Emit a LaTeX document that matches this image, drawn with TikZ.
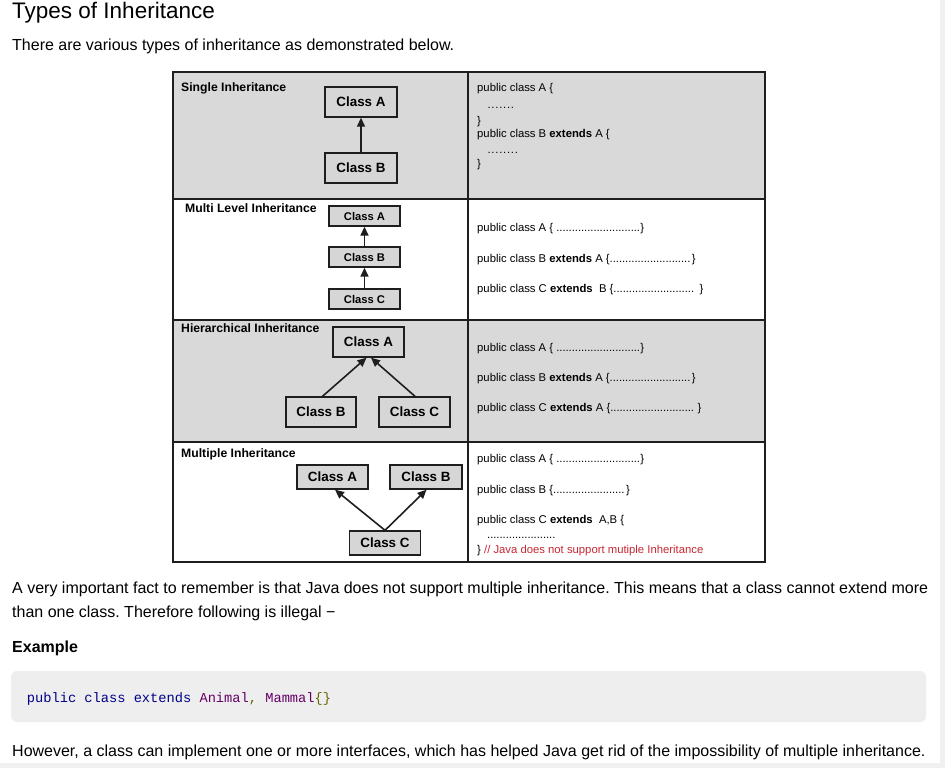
\documentclass[tikz,border=0pt]{standalone}
\usepackage{fontspec}
\setmainfont{Liberation Sans}
\setmonofont{Liberation Mono}
\usetikzlibrary{arrows.meta}
\definecolor{rowgray}{RGB}{217,217,217}
\definecolor{boxgray}{RGB}{214,214,214}
\definecolor{linedark}{RGB}{30,30,30}
\definecolor{codebg}{RGB}{238,238,238}
\definecolor{kwd}{RGB}{0,0,136}
\definecolor{typ}{RGB}{102,0,102}
\definecolor{pun}{RGB}{102,102,0}
\definecolor{cmtred}{RGB}{200,40,50}
\definecolor{stripgray}{RGB}{240,240,240}
\frenchspacing
\newcommand{\dts}[1]{\hbox to #1pt{\leaders\hbox to 3.1pt{\hss.\hss}\hfill}}
\newcommand{\wdts}[1]{\hbox to #1pt{\leaders\hbox to 3.9pt{\hss.\hss}\hfill}}
\tikzset{
  clsbox/.style={draw=linedark, line width=1.4pt, fill=boxgray, inner sep=0pt, font=\fontsize{13.4}{15}\selectfont\bfseries},
  clssmall/.style={draw=linedark, line width=1.4pt, fill=boxgray, inner sep=0pt, minimum width=71pt, minimum height=20pt, font=\fontsize{11.2}{13}\selectfont\bfseries},
  rowlabel/.style={anchor=base west, inner sep=0pt, font=\fontsize{12.2}{14}\selectfont\bfseries},
  codeline/.style={anchor=base west, inner sep=0pt, font=\fontsize{11.3}{13}\selectfont},
  bodytext/.style={anchor=base west, inner sep=0pt, font=\fontsize{16}{19}\selectfont},
  inh/.style={-{Triangle[length=9pt,width=8pt]}, line width=1.6pt, draw=linedark},
  tableline/.style={draw=linedark, line width=1.8pt}
}
\begin{document}
\begin{tikzpicture}[x=1pt,y=-1pt]
\useasboundingbox (0,0) rectangle (945,768);
\fill[white] (0,0) rectangle (945,768);
\fill[stripgray] (940,0) rectangle (945,768);
\fill[stripgray] (0,763) rectangle (945,768);

% heading and intro
\node[anchor=base west, inner sep=0pt, font=\fontsize{22.5}{26}\selectfont] (title) at (12,18.5) {Types of Inheritance};
\node[bodytext] (intro) at (12,50.5) {There are various types of inheritance as demonstrated below.};

% table background rows
\fill[rowgray] (173,72) rectangle (765,199);
\fill[rowgray] (173,320) rectangle (765,442);
\draw[tableline] (173,72) rectangle (765,562);
\draw[tableline] (468,72) -- (468,562);
\draw[tableline] (173,199) -- (765,199);
\draw[tableline] (173,320) -- (765,320);
\draw[tableline] (173,442) -- (765,442);

% Single inheritance
\node[rowlabel] (lsingle) at (181,92) {Single Inheritance};
\node[clsbox, minimum width=72pt, minimum height=30pt] (sA) at (361,102) {Class A};
\node[clsbox, minimum width=72pt, minimum height=30pt] (sB) at (361,168) {Class B};
\draw[inh] (sB) -- (sA);

% Multi level inheritance
\node[rowlabel] (lmulti) at (185,212) {Multi Level Inheritance};
\node[clssmall] (mA) at (364.5,216) {Class A};
\node[clssmall] (mB) at (364.5,257) {Class B};
\node[clssmall] (mC) at (364.5,299) {Class C};
\draw[inh] (mB) -- (mA);
\draw[inh] (mC) -- (mB);

% Hierarchical inheritance
\node[rowlabel] (lhier) at (181,332.5) {Hierarchical Inheritance};
\node[clsbox, minimum width=71pt, minimum height=30pt] (hA) at (368.5,342) {Class A};
\node[clsbox, minimum width=70pt, minimum height=30pt] (hB) at (321,412) {Class B};
\node[clsbox, minimum width=71pt, minimum height=30pt] (hC) at (414.5,412) {Class C};
\draw[inh] ([xshift=1.5pt]hB.north) -- ([xshift=-2pt]hA.south);
\draw[inh] ([xshift=0.5pt]hC.north) -- ([xshift=2.5pt]hA.south);

% Multiple inheritance
\node[rowlabel] (lmult) at (181,457) {Multiple Inheritance};
\node[clsbox, minimum width=71pt, minimum height=24pt] (uA) at (332.5,477) {Class A};
\node[clsbox, minimum width=72pt, minimum height=24pt] (uB) at (426,477) {Class B};
\node[clsbox, minimum width=71pt, minimum height=24pt] (uC) at (385,543) {Class C};
\draw[inh] (uC.north) -- ([xshift=2.5pt]uA.south);
\draw[inh] (uC.north) -- ([xshift=0.5pt]uB.south);

% code column, row 1
\node[codeline] (c11) at (477,92) {public class A \{};
\node[codeline] (c12) at (487,108) {\wdts{28}};
\node[codeline] (c13) at (477,124) {\}};
\node[codeline] (c14) at (477,137) {public class B \textbf{extends} A \{};
\node[codeline] (c15) at (487,153) {\wdts{35}};
\node[codeline] (c16) at (477,167) {\}};

% code column, row 2
\node[codeline] (c21) at (477,231) {public class A \{ \dts{84}\}};
\node[codeline] (c22) at (477,262) {public class B \textbf{extends} A \{\dts{82}\}};
\node[codeline] (c23) at (477,292.5) {public class C \textbf{extends}\ \ B \{\dts{83} \}};

% code column, row 3
\node[codeline] (c31) at (477,351) {public class A \{ \dts{84}\}};
\node[codeline] (c32) at (477,381) {public class B \textbf{extends} A \{\dts{82}\}};
\node[codeline] (c33) at (477,411.5) {public class C \textbf{extends} A \{\dts{84} \}};

% code column, row 4
\node[codeline] (c41) at (477,462) {public class A \{ \dts{84}\}};
\node[codeline] (c42) at (477,493) {public class B \{\dts{73}\}};
\node[codeline] (c43) at (477,523) {public class C \textbf{extends}\ \ A,B \{};
\node[codeline] (c44) at (487,538) {\dts{70}};
\node[codeline] (c45) at (477,553) {\} \textcolor{cmtred}{// Java does not support mutiple Inheritance}};

% text below
\node[bodytext] (p1) at (12,593) {A very important fact to remember is that Java does not support multiple inheritance. This means that a class cannot extend more};
\node[bodytext] (p2) at (12,617.5) {than one class. Therefore following is illegal −};
\node[bodytext, font=\fontsize{16}{19}\selectfont\bfseries] (ex) at (12,652.3) {Example};
\fill[codebg, rounded corners=6pt] (11,671) rectangle (926,722);
\node[anchor=base west, inner sep=0pt, font=\fontsize{13.7}{16}\ttfamily] (code) at (26.7,702.3) {\textcolor{kwd}{public class extends} \textcolor{typ}{Animal}\textcolor{pun}{,} \textcolor{typ}{Mammal}\textcolor{pun}{\{\}}};
\node[bodytext] (p3) at (12,756.7) {However, a class can implement one or more interfaces, which has helped Java get rid of the impossibility of multiple inheritance.};
\end{tikzpicture}
\end{document}
